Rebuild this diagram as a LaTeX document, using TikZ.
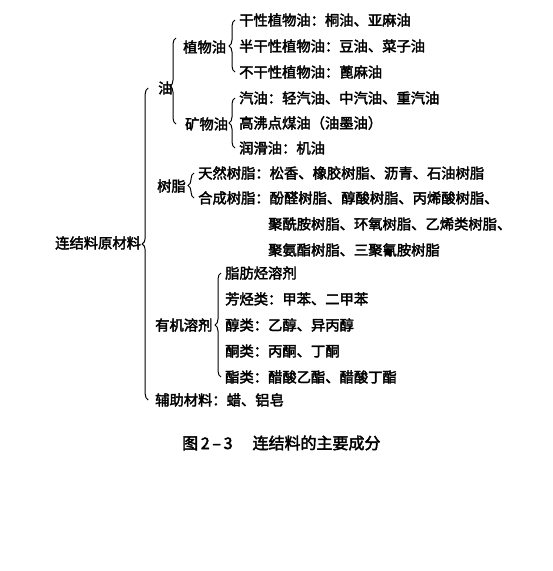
\documentclass[tikz,border=0pt]{standalone}
\usepackage{fontspec}
\newfontfamily\zh[FakeBold=2.5]{Noto Sans CJK SC}
\usetikzlibrary{decorations.pathreplacing}

\tikzset{
	lbl/.style={anchor=west, inner sep=0pt, font=\zh\fontsize{14.3}{15}\selectfont},
	brc/.style={decorate, decoration={brace, amplitude=6pt, aspect=#1}, line width=1pt},
	brc/.default=0.5
}

\begin{document}
\begin{tikzpicture}[x=1pt, y=-1pt]
	\useasboundingbox (0,0) rectangle (553,571);
	% root
	\node[lbl] (root) at (55,243) {连结料原材料};
	% oils
	\node[lbl] (you) at (158,88) {油};
	\node[lbl] (zwy) at (183,47) {植物油};
	\node[lbl] (g1) at (239,20) {干性植物油：桐油、亚麻油};
	\node[lbl] (g2) at (239,46) {半干性植物油：豆油、菜子油};
	\node[lbl] (g3) at (239,72) {不干性植物油：蓖麻油};
	\node[lbl] (kwy) at (185,124) {矿物油};
	\node[lbl] (k1) at (239,98) {汽油：轻汽油、中汽油、重汽油};
	\node[lbl] (k2) at (239,123) {高沸点煤油（油墨油）};
	\node[lbl] (k3) at (239,148) {润滑油：机油};
	% resins
	\node[lbl] (sz) at (157,186) {树脂};
	\node[lbl] (s1) at (198,173) {天然树脂：松香、橡胶树脂、沥青、石油树脂};
	\node[lbl] (s2) at (198,198) {合成树脂：酚醛树脂、醇酸树脂、丙烯酸树脂、};
	\node[lbl] (s3) at (268,224) {聚酰胺树脂、环氧树脂、乙烯类树脂、};
	\node[lbl] (s4) at (268,250) {聚氨酯树脂、三聚氰胺树脂};
	% solvents
	\node[lbl] (yj) at (155,325) {有机溶剂};
	\node[lbl] (r1) at (225,273) {脂肪烃溶剂};
	\node[lbl] (r2) at (225,299) {芳烃类：甲苯、二甲苯};
	\node[lbl] (r3) at (225,325) {醇类：乙醇、异丙醇};
	\node[lbl] (r4) at (225,351) {酮类：丙酮、丁酮};
	\node[lbl] (r5) at (225,377) {酯类：醋酸乙酯、醋酸丁酯};
	\node[lbl] (fz) at (155,400) {辅助材料：蜡、铝皂};
	% caption
	\node[lbl, font=\zh\fontsize{16}{17}\selectfont] (cap) at (182,443) {图\,2\,–\,3\hspace{20pt}连结料的主要成分};

	% braces
	\draw[brc] ([xshift=7pt]root.east |- fz.west) -- ([xshift=7pt]root.east |- you.west);
	\draw[brc=0.44] ([xshift=-7pt]zwy.west |- kwy.west) -- ([xshift=-7pt,yshift=9pt]zwy.west);
	\draw[brc] ([xshift=-4pt]g3.west) -- ([xshift=-4pt]g1.west);
	\draw[brc] ([xshift=-4pt]k3.west) -- ([xshift=-4pt]k1.west);
	\draw[brc] ([xshift=-4pt]s2.west) -- ([xshift=-4pt]s1.west);
	\draw[brc] ([xshift=-4pt]r5.west) -- ([xshift=-4pt]r1.west);
\end{tikzpicture}
\end{document}
